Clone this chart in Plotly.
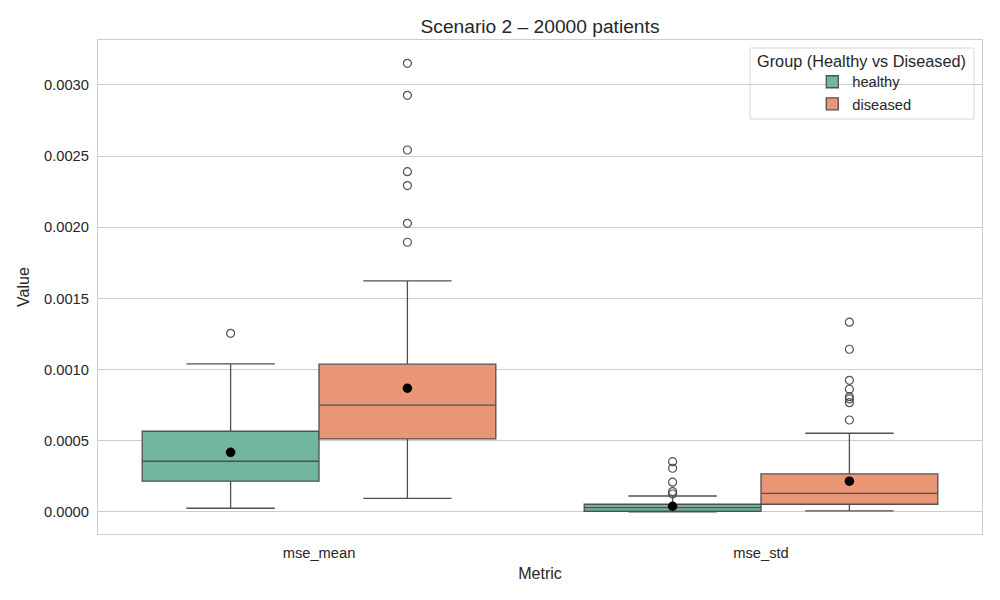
import plotly.graph_objects as go

categories = ["mse_mean", "mse_std"]
groups = ["healthy", "diseased"]
colors = {"healthy": "#72b6a1", "diseased": "#e99675"}

# box statistics per group, per category
q1 = {"healthy": [0.000216, 0.000005], "diseased": [0.000513, 0.000054]}
median = {"healthy": [0.000356, 0.000030], "diseased": [0.000750, 0.000131]}
q3 = {"healthy": [0.000567, 0.000054], "diseased": [0.001038, 0.000267]}
lowerfence = {"healthy": [0.000026, 0.000000], "diseased": [0.000096, 0.000007]}
upperfence = {"healthy": [0.001040, 0.000112], "diseased": [0.001623, 0.000553]}
means = {"healthy": [0.000419, 0.000040], "diseased": [0.000869, 0.000216]}

outliers = {
    "healthy": [[0.001255], [0.000353, 0.000307, 0.000209, 0.000143, 0.000126]],
    "diseased": [
        [0.003152, 0.002927, 0.002543, 0.002391, 0.002293, 0.002028, 0.001895],
        [0.001333, 0.001143, 0.000925, 0.000862, 0.000810, 0.000794, 0.000768, 0.000646],
    ],
}
yticks = [0, 0.0005, 0.001, 0.0015, 0.002, 0.0025, 0.003]

offsets = {"healthy": -0.2, "diseased": 0.2}
edge = "#505050"
txt = "#262626"
FONT = "Arial, Liberation Sans, sans-serif"

fig = go.Figure()
for g in groups:
    xs = [i + offsets[g] for i in range(len(categories))]
    fig.add_trace(go.Box(
        x=xs, q1=q1[g], median=median[g], q3=q3[g],
        lowerfence=lowerfence[g], upperfence=upperfence[g],
        width=0.4, whiskerwidth=0.5, name=g,
        fillcolor=colors[g], line=dict(color=edge, width=1.3),
        boxpoints=False, showlegend=True,
    ))
for g in groups:
    ox, oy = [], []
    for i, vals in enumerate(outliers[g]):
        ox += [i + offsets[g]] * len(vals)
        oy += vals
    fig.add_trace(go.Scatter(
        x=ox, y=oy, mode="markers", showlegend=False, hoverinfo="y",
        marker=dict(symbol="circle-open", size=8, color=edge, line=dict(width=1.2, color=edge)),
    ))
for g in groups:
    xs = [i + offsets[g] for i in range(len(categories))]
    fig.add_trace(go.Scatter(
        x=xs, y=means[g], mode="markers", showlegend=False,
        marker=dict(symbol="circle", size=9.5, color="black"),
    ))

fig.update_layout(
    width=1000, height=600,
    margin=dict(l=90, r=26, t=32, b=74),
    paper_bgcolor="white", plot_bgcolor="white",
    font=dict(family=FONT, size=14.7, color=txt),
    title=dict(text="Scenario 2 – 20000 patients", x=0.532, xanchor="center", y=0.97, yanchor="middle",
               font=dict(size=19.2, color=txt)),
    boxmode="overlay",
    legend=dict(
        x=0.808, xanchor="left", y=0.948, yanchor="top",
        borderwidth=0, bgcolor="rgba(0,0,0,0)",
        font=dict(size=14.7, color=txt), tracegroupgap=0,
    ),
    showlegend=True,
    shapes=[dict(type="rect", xref="paper", yref="paper", x0=0.7376, x1=0.991, y0=0.840, y1=0.9838,
                 line=dict(color="#d6d6d6", width=1), fillcolor="rgba(255,255,255,0.8)", layer="below")],
    annotations=[dict(text="Group (Healthy vs Diseased)", xref="paper", yref="paper", x=0.864, y=0.958,
                      xanchor="center", yanchor="middle", showarrow=False,
                      font=dict(size=16.3, color=txt))],
)
fig.update_xaxes(
    range=[-0.5, 1.5], tickvals=list(range(len(categories))), ticktext=categories,
    showgrid=False, zeroline=False, showline=True, mirror=True, linecolor="#cccccc", linewidth=1.25,
    title=dict(text="Metric", font=dict(size=16, color=txt), standoff=8), tickfont=dict(size=14.7, color=txt),
    ticks="outside", ticklen=5, tickcolor="rgba(0,0,0,0)",
)
fig.update_yaxes(
    range=[-0.000155, 0.003316], tickvals=yticks,
    tickformat=".4f", showgrid=True, gridcolor="#cccccc", gridwidth=1.2, zeroline=False,
    showline=True, mirror=True, linecolor="#cccccc", linewidth=1.25,
    title=dict(text="Value", font=dict(size=16, color=txt), standoff=10), tickfont=dict(size=14.7, color=txt),
    ticks="outside", ticklen=5, tickcolor="rgba(0,0,0,0)",
)

fig.write_html("out.html")
